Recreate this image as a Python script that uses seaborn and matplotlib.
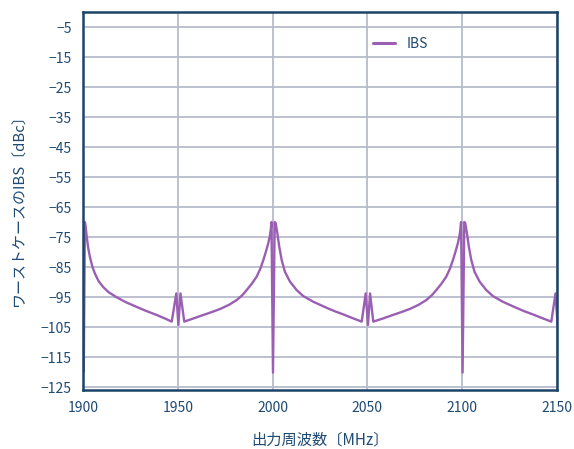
import matplotlib
matplotlib.use("Agg")
import matplotlib.pyplot as plt
import seaborn as sns
import pandas as pd

freq_mhz = [
    1900.0, 1900.4, 1901.0, 1901.4, 1901.9, 1902.7, 1903.7, 1905.0, 1906.3, 1908.3,
    1910.7, 1913.5, 1917.8, 1922.5, 1928.3, 1933.5, 1938.9, 1943.0, 1946.8,
    1949.2, 1950.3, 1951.4, 1953.4,
    1958.0, 1963.4, 1968.0, 1972.3, 1977.0, 1981.1, 1984.0, 1986.3, 1989.0, 1991.6,
    1993.5, 1995.1, 1996.5, 1997.7, 1998.5, 1999.0, 1999.4,
    2000.2, 2001.1,
    2001.6, 2002.5, 2003.5, 2004.8, 2006.5, 2009.2, 2012.7, 2016.2, 2021.5,
    2028.5, 2033.0, 2037.3, 2042.0, 2047.0,
    2049.1, 2050.3, 2051.4, 2053.1,
    2058.0, 2063.4, 2068.0, 2072.3, 2077.0, 2081.1, 2084.0, 2086.3, 2089.0, 2091.6,
    2093.5, 2095.1, 2096.5, 2097.7, 2098.5, 2099.0, 2099.4,
    2100.2, 2101.1,
    2101.6, 2102.5, 2103.5, 2104.8, 2106.5, 2109.2, 2112.7, 2116.2, 2121.5,
    2128.5, 2133.0, 2137.3, 2142.0, 2147.0,
    2149.2, 2150.3,
]
ibs_dbc = [
    -120.0, -120.0, -70.0, -71.5, -74.5, -78.5, -81.8, -85.0, -87.2, -89.8,
    -91.7, -93.4, -95.1, -96.7, -98.3, -99.7, -101.0, -102.1, -103.2,
    -93.8, -104.3, -93.8, -103.2,
    -102.2, -101.0, -100.0, -99.0, -97.6, -96.0, -94.4, -92.7, -90.6, -88.2,
    -85.6, -82.7, -79.8, -77.1, -74.8, -72.7, -70.0,
    -120.2, -70.0,
    -70.3, -73.8, -78.2, -82.7, -86.6, -89.9, -92.7, -94.7, -96.6,
    -98.6, -99.8, -100.8, -102.0, -103.2,
    -93.8, -104.3, -93.8, -103.2,
    -102.2, -101.0, -100.0, -99.0, -97.6, -96.0, -94.4, -92.7, -90.6, -88.2,
    -85.6, -82.7, -79.8, -77.1, -74.8, -72.7, -70.0,
    -120.2, -70.0,
    -70.3, -73.8, -78.2, -82.7, -86.6, -89.9, -92.7, -94.7, -96.6,
    -98.6, -99.8, -100.8, -102.0, -103.2,
    -93.8, -104.3,
]
x_ticks = [1900, 1950, 2000, 2050, 2100, 2150]
y_ticks = [-5, -15, -25, -35, -45, -55, -65, -75, -85, -95, -105, -115, -125]
series_name = "IBS"

sns.set_theme(style="white")
plt.rcParams['font.family'] = ['Noto Sans CJK JP', 'DejaVu Sans']
plt.rcParams['axes.unicode_minus'] = True

text_color = "#1f4a72"
spine_color = "#1b4468"
grid_color = "#b8bccb"
line_color = "#9a5fb2"

df = pd.DataFrame({"freq": freq_mhz, "ibs": ibs_dbc, "series": series_name})

fig = plt.figure(figsize=(5.74, 4.49), dpi=100)
ax = fig.add_axes([0.1446, 0.1314, 0.8258, 0.8418])

sns.lineplot(data=df, x="freq", y="ibs", hue="series", palette=[line_color],
             sort=False, estimator=None, linewidth=1.7, ax=ax)

ax.set_xlim(1900, 2150)
ax.set_ylim(-126, 0)
ax.set_xticks(x_ticks)
ax.set_yticks(y_ticks)
ax.set_xticklabels([str(v) for v in x_ticks])
ax.set_yticklabels(["\u2212" + str(abs(v)) for v in y_ticks])
ax.grid(True, color=grid_color, linewidth=1.3)
ax.set_axisbelow(True)
ax.tick_params(axis="both", length=0, labelsize=10, labelcolor=text_color, pad=8)
for s in ax.spines.values():
    s.set_color(spine_color)
    s.set_linewidth(1.8)

ax.set_xlabel("出力周波数〔MHz〕", fontsize=11, color=text_color, labelpad=12)
ax.set_ylabel("ワーストケースのIBS〔dBc〕", fontsize=10.8, color=text_color)
ax.yaxis.set_label_coords(-0.118, 0.484)

leg = ax.legend(loc="upper left", bbox_to_anchor=(0.6, 0.948), frameon=False,
                handlelength=1.6, fontsize=10, borderaxespad=0)
for t in leg.get_texts():
    t.set_color(text_color)
for h in leg.get_lines():
    h.set_linewidth(2.2)

fig.savefig("out.png", dpi=100)
